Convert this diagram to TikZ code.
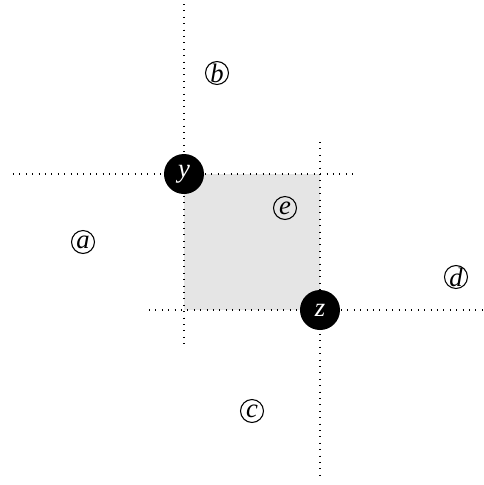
\documentclass[tikz,border=0pt]{standalone}
\usepackage{fontspec}
\setmainfont{Liberation Serif}
\begin{document}
\begin{tikzpicture}[x=0.375pt,y=-0.375pt,
  guide/.style={dotted,line width=0.4pt},
  pt/.style={circle,fill=black,text=white,minimum size=15pt,inner sep=0pt,font=\itshape},
  region/.style={circle,draw,line width=0.4pt,minimum size=8.6pt,inner sep=0pt,font=\itshape}]
\useasboundingbox (0,0) rectangle (484,485);
\fill[gray!20] (184,174) rectangle (320,310);
% guide lines
\coordinate (h1a) at (13,174); \coordinate (h1b) at (354,174);
\coordinate (v1a) at (184,4);  \coordinate (v1b) at (184,344);
\coordinate (h2a) at (149,310); \coordinate (h2b) at (484,310);
\coordinate (v2a) at (320,142); \coordinate (v2b) at (320,481);
\draw[guide] (h1a) -- (h1b);
\draw[guide] (v1a) -- (v1b);
\draw[guide] (h2a) -- (h2b);
\draw[guide] (v2a) -- (v2b);
\node[pt] (y) at (184,174) {y};
\node[pt] (z) at (320,310) {z};
\node[region] (a) at (83,242) {a};
\node[region] (b) at (217,73) {b};
\node[region] (c) at (252,411) {c};
\node[region] (d) at (456,277) {d};
\node[region] (e) at (285,208) {e};
\end{tikzpicture}
\end{document}
